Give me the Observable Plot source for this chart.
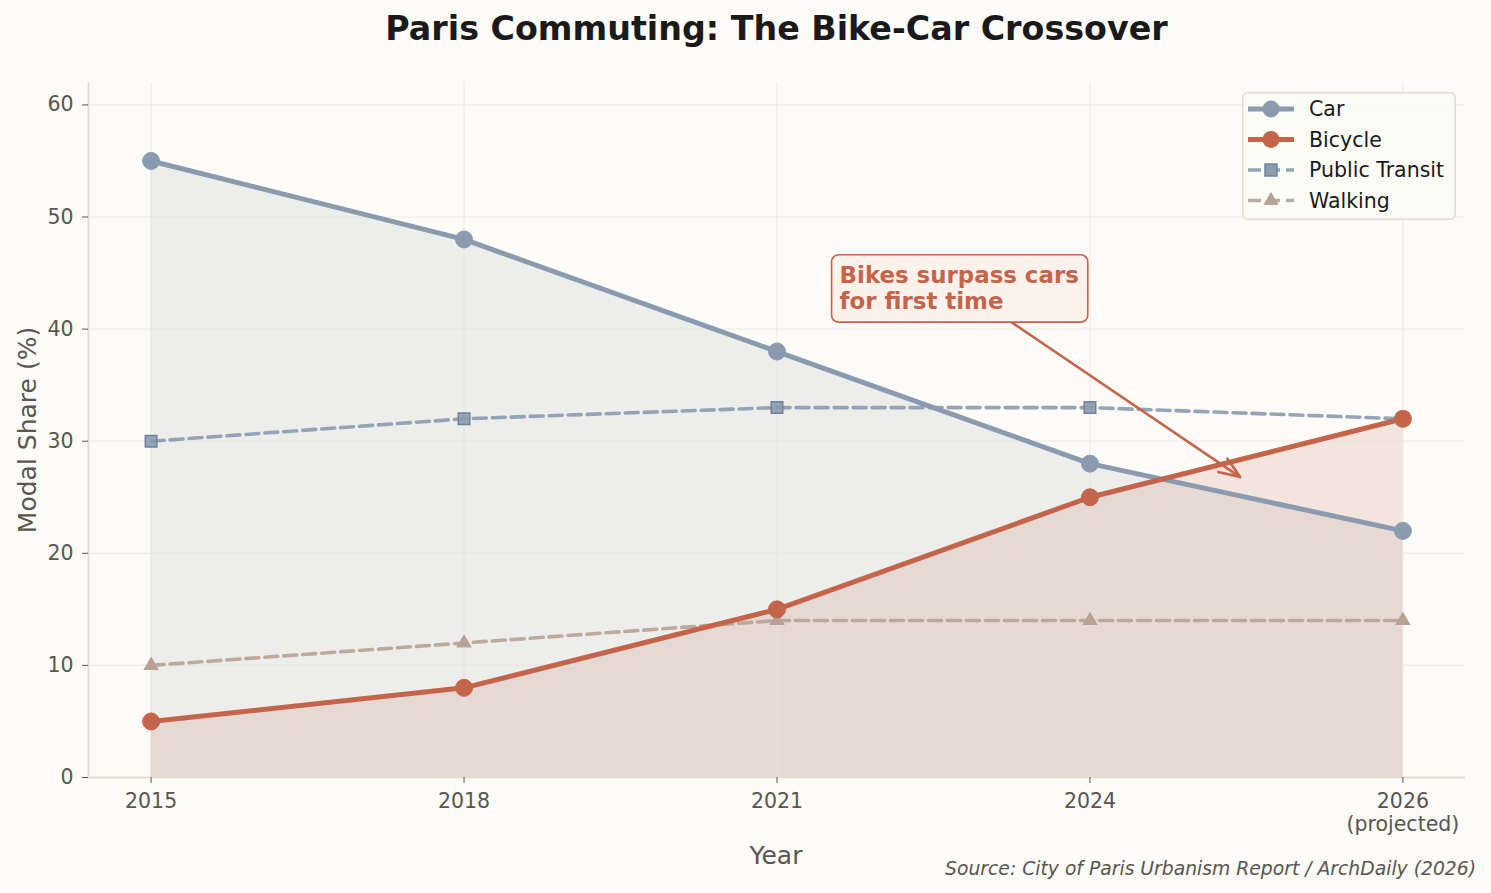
<!DOCTYPE html>
<html>
<head>
<meta charset="utf-8">
<script src="https://cdn.jsdelivr.net/npm/d3@7"></script>
<script src="https://cdn.jsdelivr.net/npm/@observablehq/plot@0.6"></script>
<style>
  html, body { margin: 0; padding: 0; background: #fcfbf7; }
  #wrap { position: relative; width: 1491px; height: 893px; overflow: hidden; font-family: "DejaVu Sans", sans-serif; background: #fcfbf7; }
  #title { position: absolute; left: 88px; width: 1377px; top: 9px; text-align: center; font-size: 33.3px; font-weight: bold; color: #1a1a1a; line-height: 40px; }
  #chart { position: absolute; left: 0; top: 60px; }
  #ylabel { position: absolute; left: 27px; top: 430px; transform: translate(-50%, -50%) rotate(-90deg); font-size: 25px; color: #5a554f; white-space: nowrap; }
  #xlabel { position: absolute; left: 776px; top: 855px; transform: translate(-50%, -50%); font-size: 25px; color: #5a554f; white-space: nowrap; }
  #source { position: absolute; right: 15px; top: 868px; transform: translateY(-50%); font-size: 18.75px; font-style: italic; color: #5a554f; white-space: nowrap; }
  #legend { position: absolute; left: 1242px; top: 92px; }
</style>
</head>
<body>
<div id="wrap">
  <div id="title">Paris Commuting: The Bike-Car Crossover</div>
  <div id="chart"></div>
  <div id="ylabel">Modal Share (%)</div>
  <div id="xlabel">Year</div>
  <div id="source">Source: City of Paris Urbanism Report / ArchDaily (2026)</div>
  <svg id="legend" width="214" height="128"></svg>
</div>
<script>
// ---- data ----
const years = ["2015", "2018", "2021", "2024", "2026"];
const tickLabels = ["2015", "2018", "2021", "2024", "2026\n(projected)"];
const car = [55, 48, 38, 28, 22];
const bicycle = [5, 8, 15, 25, 32];
const transit = [30, 32, 33, 33, 32];
const walking = [10, 12, 14, 14, 14];
const yTicks = [0, 10, 20, 30, 40, 50, 60];
const seriesNames = ["Car", "Bicycle", "Public Transit", "Walking"];
const annotationText = "Bikes surpass cars\nfor first time";
const annotationAt = [2.2, 45.8];          // text anchor (year index, %)
const arrowFrom = [2.75, 40.6];
const arrowTo = [3.48, 26.8];

// ---- styles ----
const C_CAR = "#8a9bb0";
const C_BIKE = "#c4644a";
const C_TRANSIT = "#8a9bb0";
const C_WALK = "#b7a295";
const INK = "#5a554f";
const TICK_FS = 20.5;

const idx = years.map((_, i) => i);
const rows = years.map((y, i) => ({ i, year: y, car: car[i], bicycle: bicycle[i], transit: transit[i], walking: walking[i] }));
const xDomain = [-0.2, years.length - 1 + 0.2];

const chart = Plot.plot({
  width: 1491,
  height: 833,
  marginTop: 22,
  marginBottom: 116,
  marginLeft: 88,
  marginRight: 26,
  style: { background: "transparent", fontFamily: "DejaVu Sans, sans-serif", fontSize: TICK_FS + "px", color: INK },
  x: { domain: xDomain },
  y: { domain: [0, 62] },
  marks: [
    Plot.areaY(rows, { x: "i", y: "car", fill: "#989eab", fillOpacity: 0.15 }),
    Plot.areaY(rows, { x: "i", y: "bicycle", fill: C_BIKE, fillOpacity: 0.15 }),
    Plot.gridY({ ticks: yTicks, stroke: "#e6e1da", strokeOpacity: 0.6, strokeWidth: 1.2 }),
    Plot.gridX({ ticks: idx, stroke: "#e6e1da", strokeOpacity: 0.6, strokeWidth: 1.2 }),
    Plot.ruleY([0], { stroke: "#e3dcd4", strokeWidth: 1.8 }),
    Plot.ruleX([xDomain[0]], { stroke: "#e3dcd4", strokeWidth: 1.8 }),
    Plot.axisY({ ticks: yTicks, tickSize: 6, tickPadding: 9, label: null, stroke: INK, fill: INK, fontSize: TICK_FS }),
    Plot.axisX({ ticks: idx, tickFormat: (i) => tickLabels[i], tickSize: 6, tickPadding: 8, label: null, stroke: INK, fill: INK, fontSize: TICK_FS, lineHeight: 1.13 }),
    // dashed series
    Plot.lineY(rows, { x: "i", y: "transit", stroke: C_TRANSIT, strokeWidth: 3.6, strokeDasharray: "13,6", strokeOpacity: 0.9 }),
    Plot.dot(rows, { x: "i", y: "transit", symbol: "square", r: 6.5, fill: C_TRANSIT, stroke: "#70839b", strokeWidth: 1.5, fillOpacity: 0.9 }),
    Plot.lineY(rows, { x: "i", y: "walking", stroke: C_WALK, strokeWidth: 3.6, strokeDasharray: "13,6", strokeOpacity: 0.9 }),
    Plot.dot(rows, { x: "i", y: "walking", symbol: "triangle", r: 5, fill: C_WALK, stroke: C_WALK, strokeWidth: 1.2 }),
    // main series
    Plot.lineY(rows, { x: "i", y: "car", stroke: C_CAR, strokeWidth: 5 }),
    Plot.dot(rows, { x: "i", y: "car", r: 8.5, fill: C_CAR, stroke: C_CAR, strokeWidth: 1 }),
    Plot.lineY(rows, { x: "i", y: "bicycle", stroke: C_BIKE, strokeWidth: 5 }),
    Plot.dot(rows, { x: "i", y: "bicycle", r: 8.5, fill: C_BIKE, stroke: C_BIKE, strokeWidth: 1 }),
    // annotation
    Plot.arrow([{ x1: arrowFrom[0], y1: arrowFrom[1], x2: arrowTo[0], y2: arrowTo[1] }], {
      x1: "x1", y1: "y1", x2: "x2", y2: "y2", stroke: C_BIKE, strokeWidth: 2.6, headLength: 13, headAngle: 42, bend: 0
    }),
    Plot.text([{ x: annotationAt[0], y: annotationAt[1], t: annotationText }], {
      x: "x", y: "y", text: "t", textAnchor: "start", lineAnchor: "top", lineHeight: 1.15,
      fontSize: 22.9, fontWeight: "bold", fill: C_BIKE
    })
  ]
});
document.getElementById("chart").appendChild(chart);

// box behind annotation text
const annText = chart.querySelector('g[aria-label="text"] text');
if (annText) {
  const bb = annText.getBBox();
  const rect = document.createElementNS("http://www.w3.org/2000/svg", "rect");
  const padL = 8, padR = 9, padT = 7, padB = 8;
  rect.setAttribute("x", bb.x - padL);
  rect.setAttribute("y", bb.y - padT);
  rect.setAttribute("width", bb.width + padL + padR);
  rect.setAttribute("height", bb.height + padT + padB);
  rect.setAttribute("rx", 7);
  rect.setAttribute("fill", "#fdf0ea");
  rect.setAttribute("fill-opacity", 0.95);
  rect.setAttribute("stroke", C_BIKE);
  rect.setAttribute("stroke-width", 1.6);
  const tr = annText.getAttribute("transform");
  if (tr) rect.setAttribute("transform", tr);
  annText.parentNode.insertBefore(rect, annText);
}

// ---- legend ----
const legendStyles = [
  { stroke: C_CAR, width: 5, dash: null, symbol: "circle", fill: C_CAR, edge: C_CAR },
  { stroke: C_BIKE, width: 5, dash: null, symbol: "circle", fill: C_BIKE, edge: C_BIKE },
  { stroke: C_TRANSIT, width: 3.6, dash: "13,6", symbol: "square", fill: C_TRANSIT, edge: "#70839b" },
  { stroke: C_WALK, width: 3.6, dash: "13,6", symbol: "triangle", fill: C_WALK, edge: C_WALK }
];
const lg = d3.select("#legend");
lg.append("rect").attr("x", 0.8).attr("y", 0.8).attr("width", 212.4).attr("height", 126.4).attr("rx", 5)
  .attr("fill", "#fcfbf7").attr("fill-opacity", 0.85).attr("stroke", "#e3dcd4").attr("stroke-width", 1.6);
seriesNames.forEach((name, k) => {
  const s = legendStyles[k];
  const cy = 17 + k * 30.5;
  const g = lg.append("g");
  g.append("line").attr("x1", 6).attr("x2", 52).attr("y1", cy).attr("y2", cy)
    .attr("stroke", s.stroke).attr("stroke-width", s.width).attr("stroke-dasharray", s.dash)
    .attr("stroke-opacity", s.dash ? 0.9 : 1);
  if (s.symbol === "circle") {
    g.append("circle").attr("cx", 29).attr("cy", cy).attr("r", 8.5).attr("fill", s.fill);
  } else if (s.symbol === "square") {
    g.append("rect").attr("x", 29 - 6).attr("y", cy - 6).attr("width", 12).attr("height", 12)
      .attr("fill", s.fill).attr("stroke", s.edge).attr("stroke-width", 1.5);
  } else {
    g.append("path").attr("d", d3.symbol(d3.symbolTriangle, Math.PI * 25)()).attr("transform", `translate(29,${cy})`)
      .attr("fill", s.fill).attr("stroke", s.edge);
  }
  g.append("text").attr("x", 67).attr("y", cy).attr("dy", "0.35em")
    .attr("font-family", "DejaVu Sans, sans-serif").attr("font-size", 20.5).attr("fill", "#1a1a1a").text(name);
});
</script>
</body>
</html>
